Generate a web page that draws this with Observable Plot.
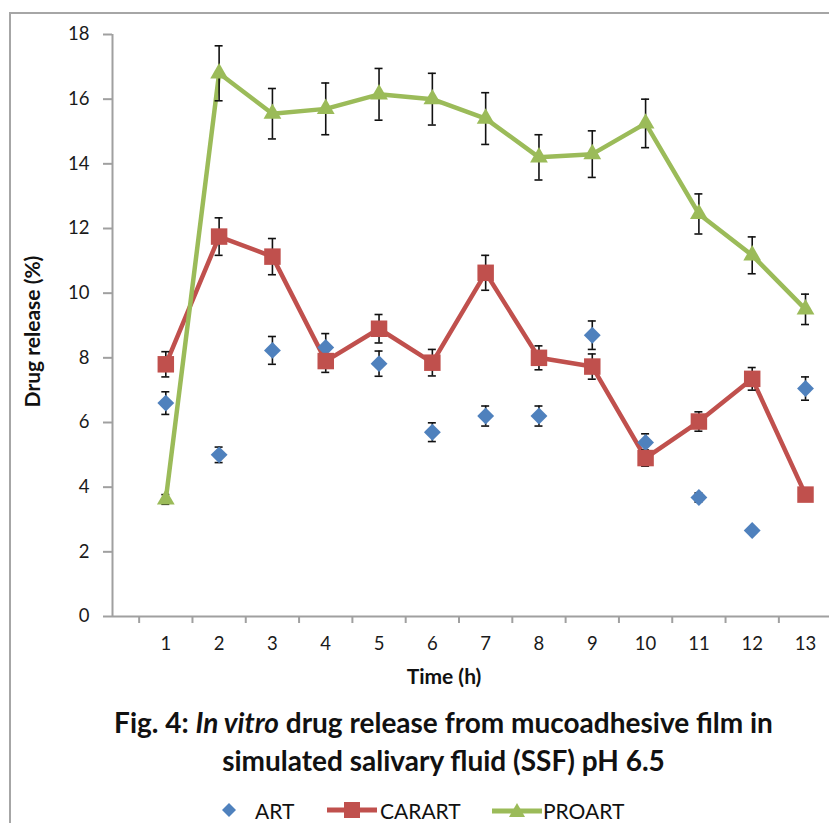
<!DOCTYPE html>
<html>
<head>
<meta charset="utf-8">
<script src="https://cdn.jsdelivr.net/npm/d3@7"></script>
<script src="https://cdn.jsdelivr.net/npm/@observablehq/plot@0.6"></script>
<style>
  body { margin: 0; background: #fff; font-family: Lato, "Open Sans", sans-serif; color: #111; }
  #wrap { position: relative; width: 829px; height: 823px; overflow: hidden; background: #fff; }
  #chart { position: absolute; left: 0; top: 0; }
  #frame { position: absolute; left: 9px; top: 12px; right: -10px; bottom: -10px;
           border-left: 2px solid #a6a6a6; border-top: 2px solid #a6a6a6; pointer-events: none; }
  .title { position: absolute; left: 0; width: 887px; text-align: center; font-weight: bold;
           font-size: 28px; white-space: nowrap; transform: translateY(-50%); }
  .leg { position: absolute; top: 810px; transform: translateY(-50%); font-size: 21px; white-space: nowrap; }
  .sw { position: absolute; top: 810px; transform: translateY(-50%); }
</style>
</head>
<body>
<div id="wrap">
  <div id="chart"></div>
  <div class="title" style="top:722px;">Fig. 4: <i>In vitro</i> drug release from mucoadhesive film in</div>
  <div class="title" style="top:760px;">simulated salivary fluid (SSF) pH 6.5</div>
  <svg class="sw" style="left:221px" width="16" height="16"><path d="M8,1 L15,8 L8,15 L1,8Z" fill="#4F81BD"/></svg>
  <div class="leg" style="left:255px">ART</div>
  <svg class="sw" style="left:326px" width="52" height="18"><line x1="1" y1="9" x2="51" y2="9" stroke="#C0504D" stroke-width="5"/><rect x="18" y="1" width="16" height="16" fill="#C0504D"/></svg>
  <div class="leg" style="left:380px">CARART</div>
  <svg class="sw" style="left:491px" width="52" height="18"><line x1="1" y1="10" x2="51" y2="10" stroke="#9BBB59" stroke-width="5"/><path d="M26,2 L34,16 L18,16Z" fill="#9BBB59"/></svg>
  <div class="leg" style="left:543px">PROART</div>
  <div id="frame"></div>
</div>
<script>
// ---- data ----
const time = [1, 2, 3, 4, 5, 6, 7, 8, 9, 10, 11, 12, 13];
const yTicks = [0, 2, 4, 6, 8, 10, 12, 14, 16, 18];

const art       = [6.6, 5.0, 8.23, 8.32, 7.82, 5.7, 6.2, 6.2, 8.7, 5.38, 3.68, 2.66, 7.05];
const artErr    = [0.35, 0.24, 0.43, 0.43, 0.39, 0.29, 0.31, 0.31, 0.44, 0.27, 0.14, 0, 0.36];

const carart    = [7.8, 11.75, 11.13, 7.9, 8.9, 7.85, 10.63, 8.0, 7.73, 4.9, 6.03, 7.35, 3.77];
const carartErr = [0.39, 0.58, 0.56, 0.35, 0.44, 0.41, 0.54, 0.37, 0.39, 0.25, 0.3, 0.35, 0];

const proart    = [3.62, 16.8, 15.55, 15.7, 16.15, 16.0, 15.4, 14.2, 14.3, 15.25, 12.45, 11.17, 9.5];
const proartErr = [0.15, 0.85, 0.78, 0.8, 0.8, 0.8, 0.8, 0.7, 0.72, 0.75, 0.62, 0.57, 0.47];

const series = ["ART", "CARART", "PROART"];
const colors = ["#4F81BD", "#C0504D", "#9BBB59"];

// ---- build table ----
const table = (vals, errs, name) => time.map((t, i) => ({time: t, v: vals[i], e: errs[i], series: name}));
const artRows = table(art, artErr, series[0]);
const carRows = table(carart, carartErr, series[1]);
const proRows = table(proart, proartErr, series[2]);
const allRows = [...artRows, ...carRows, ...proRows];
const errRows = allRows.filter(d => d.e > 0);
const capHalf = 0.075;
const halfTicks = time.map(t => t - 0.5);

const chart = Plot.plot({
  width: 829,
  height: 700,
  marginLeft: 112,
  marginRight: 0,
  marginTop: 34,
  marginBottom: 84,
  x: {domain: [0, 13.45]},
  y: {domain: [0, 18]},
  style: {fontFamily: "Lato, 'Open Sans', sans-serif", fontSize: "18.5px", color: "#1a1a1a", background: "transparent"},
  marks: [
    Plot.axisY({ticks: yTicks, tickSize: 9, tickPadding: 14, stroke: "#a0a0a0", strokeWidth: 2, label: null}),
    Plot.axisX({ticks: time, tickSize: 0, tickPadding: 20, label: null}),
    Plot.axisX({ticks: halfTicks, tickSize: 7, tickFormat: () => "", stroke: "#a0a0a0", strokeWidth: 2, label: null}),
    Plot.ruleX([0], {stroke: "#a0a0a0", strokeWidth: 2}),
    Plot.ruleY([0], {stroke: "#a0a0a0", strokeWidth: 2}),
    Plot.line(carRows, {x: "time", y: "v", stroke: colors[1], strokeWidth: 4.5}),
    Plot.line(proRows, {x: "time", y: "v", stroke: colors[2], strokeWidth: 4.5}),
    Plot.ruleX(errRows, {x: "time", y1: d => d.v - d.e, y2: d => d.v + d.e, stroke: "#111", strokeWidth: 1.6}),
    Plot.ruleY(errRows, {y: d => d.v + d.e, x1: d => d.time - capHalf, x2: d => d.time + capHalf, stroke: "#111", strokeWidth: 1.6}),
    Plot.ruleY(errRows, {y: d => d.v - d.e, x1: d => d.time - capHalf, x2: d => d.time + capHalf, stroke: "#111", strokeWidth: 1.6}),
    Plot.dot(artRows, {x: "time", y: "v", symbol: "diamond2", r: 7.6, fill: colors[0], stroke: "none"}),
    Plot.dot(carRows, {x: "time", y: "v", symbol: "square", r: 9.3, fill: colors[1], stroke: "none"}),
    Plot.dot(proRows, {x: "time", y: "v", symbol: "triangle", r: 6.6, fill: colors[2], stroke: "none"}),
    Plot.text(["Drug release (%)"], {frameAnchor: "left", textAnchor: "middle", rotate: -90, dx: -79, dy: 6, fontWeight: "bold", fontSize: 21, fill: "#111"}),
    Plot.text(["Time (h)"], {frameAnchor: "bottom", textAnchor: "middle", dx: -27, dy: 67, fontWeight: "bold", fontSize: 21, fill: "#111"})
  ]
});
document.getElementById("chart").appendChild(chart);
</script>
</body>
</html>
